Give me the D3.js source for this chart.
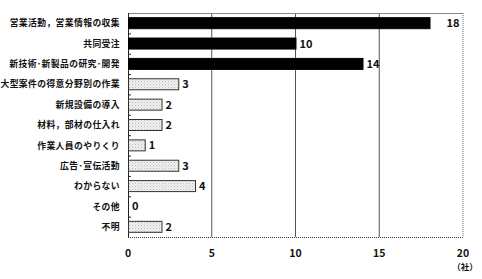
<!DOCTYPE html>
<html><head><meta charset="utf-8">
<script src="https://cdn.jsdelivr.net/npm/d3@7"></script>
<style>body{margin:0;background:#fff}svg{display:block}text{font-family:"Noto Sans CJK JP",sans-serif;font-weight:bold;fill:#111}</style>
</head><body><div id="c"></div>
<script>
const categories = ["営業活動，営業情報の収集","共同受注","新技術･新製品の研究･開発","大型案件の得意分野別の作業","新規設備の導入","材料，部材の仕入れ","作業人員のやりくり","広告･宣伝活動","わからない","その他","不明"];
const values = [18,10,14,3,2,2,1,3,4,0,2];
const highlighted = [true,true,true,false,false,false,false,false,false,false,false];
const xTicks = [0,5,10,15,20];
const unitLabel = "（社）";

const W=482,H=279, m={l:128,t:13,r:19,b:42};
const svg=d3.select("#c").append("svg").attr("width",W).attr("height",H);
const defs=svg.append("defs");
const pat=defs.append("pattern").attr("id","dots").attr("width",3).attr("height",3).attr("patternUnits","userSpaceOnUse");
pat.append("rect").attr("width",3).attr("height",3).attr("fill","#f0f0f0");
pat.append("rect").attr("x",0).attr("y",0).attr("width",1).attr("height",1).attr("fill","#b8b8b8");
pat.append("rect").attr("x",1.5).attr("y",1.5).attr("width",1).attr("height",1).attr("fill","#cfcfcf");

const x=d3.scaleLinear().domain([0,20]).range([m.l,W-m.r]);
const y=d3.scaleBand().domain(categories).range([m.t,H-m.b]).paddingInner(0.46).paddingOuter(0.23);
const step=y.step();

// grid lines
svg.append("g").selectAll("line").data(xTicks.filter(t=>t>0&&t<20)).join("line")
  .attr("x1",d=>x(d)).attr("x2",d=>x(d)).attr("y1",m.t).attr("y2",H-m.b)
  .attr("stroke","#555").attr("stroke-width",1);
// frame: top, right, bottom dotted
const fr=svg.append("g").attr("fill","none").attr("stroke","#666").attr("stroke-width",1);
fr.append("line").attr("x1",m.l).attr("x2",W-m.r).attr("y1",m.t+0.5).attr("y2",m.t+0.5).attr("stroke","#888");
fr.append("line").attr("x1",W-m.r).attr("x2",W-m.r).attr("y1",m.t).attr("y2",H-m.b).attr("stroke-dasharray","1,1");
fr.append("line").attr("x1",m.l).attr("x2",W-m.r).attr("y1",H-m.b+0.5).attr("y2",H-m.b+0.5).attr("stroke","#333").attr("stroke-dasharray","1,1");
// left axis
svg.append("line").attr("x1",m.l+0.5).attr("x2",m.l+0.5).attr("y1",m.t).attr("y2",H-m.b).attr("stroke","#222");
svg.append("g").selectAll("line").data(categories.slice(1)).join("line")
  .attr("x1",m.l).attr("x2",m.l+3).attr("y1",d=>y(d)-step*0.23+0.5).attr("y2",d=>y(d)-step*0.23+0.5)
  .attr("stroke","#222");

// bars
svg.append("g").selectAll("rect").data(categories).join("rect")
  .attr("x",x(0)+0.5).attr("y",d=>y(d))
  .attr("width",(d,i)=>Math.max(0,x(values[i])-x(0)))
  .attr("height",y.bandwidth())
  .attr("fill",(d,i)=>highlighted[i]?"#000":"url(#dots)")
  .attr("stroke",(d,i)=>highlighted[i]?"#000":"#333").attr("stroke-width",(d,i)=>values[i]>0?1:0);

// value labels
const vmax=d3.max(values);
svg.append("g").selectAll("text").data(categories).join("text")
  .attr("x",(d,i)=>x(values[i])+(values[i]===vmax?17:4))
  .attr("y",d=>y(d)+y.bandwidth()/2).attr("dy","0.36em")
  .attr("font-size",11).text((d,i)=>values[i]);

// category labels
svg.append("g").selectAll("text").data(categories).join("text")
  .attr("x",m.l-8).attr("y",d=>y(d)+y.bandwidth()/2).attr("dy","0.36em")
  .attr("text-anchor","end").attr("font-size",8.8).attr("letter-spacing",0.4).text(d=>d);

// x tick labels
svg.append("g").selectAll("text").data(xTicks).join("text")
  .attr("x",d=>x(d)).attr("y",H-m.b+20).attr("text-anchor","middle")
  .attr("font-size",10.5).text(d=>d);
svg.append("text").attr("x",x(20)+2).attr("y",H-m.b+33).attr("text-anchor","middle")
  .attr("font-size",8.5).text(unitLabel);
</script></body></html>
